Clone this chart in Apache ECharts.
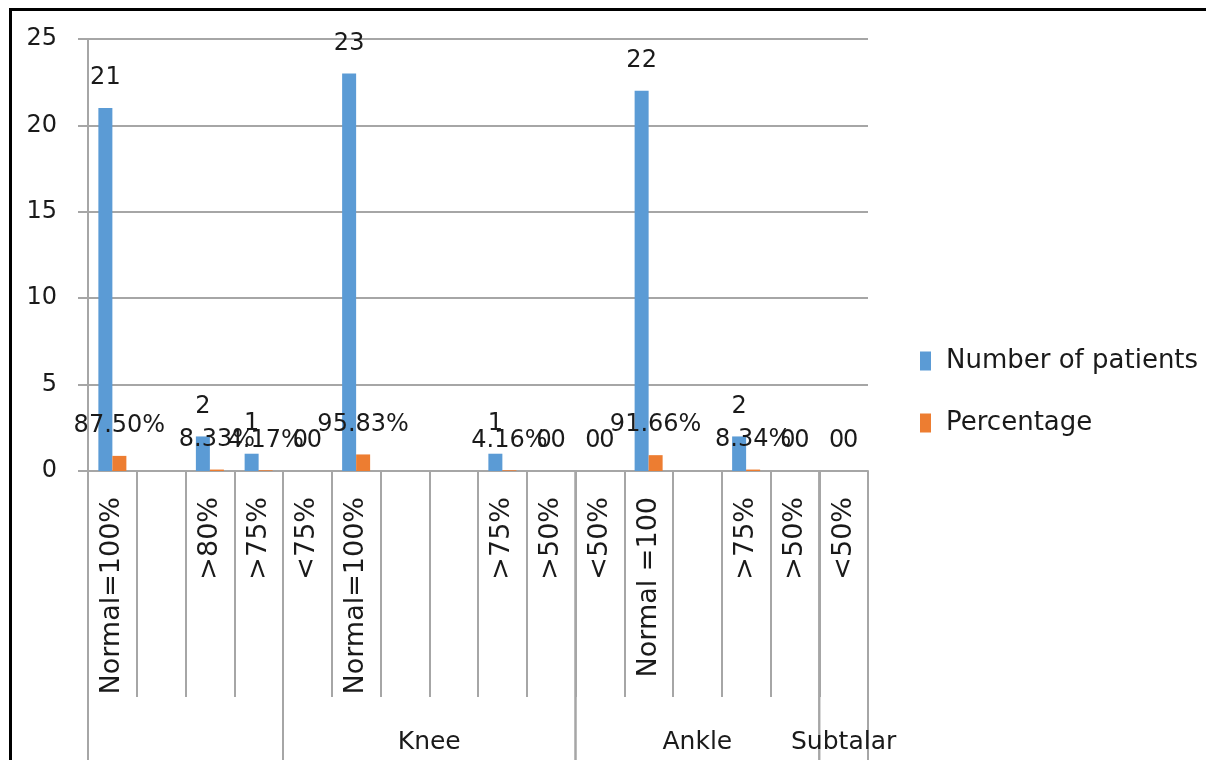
<!DOCTYPE html>
<html>
<head>
<meta charset="utf-8">
<title>Range of motion by joint</title>
<script src="https://cdn.jsdelivr.net/npm/echarts@6/dist/echarts.min.js"></script>
<style>
  html, body { margin: 0; padding: 0; background: #fff; overflow: hidden; }
  #wrap { position: relative; width: 1209px; height: 760px; overflow: hidden; }
  #chart { position: absolute; left: 0; top: 0; width: 1209px; height: 760px; }
  .rule { position: absolute; background: #000; pointer-events: none; }
  #ruleTop { left: 9px; top: 8px; width: 1197px; height: 3px; }
  #ruleLeft { left: 9px; top: 8px; width: 3px; height: 752px; }
</style>
</head>
<body>
<div id="wrap">
  <div id="chart"></div>
  <div id="ruleTop" class="rule"></div>
  <div id="ruleLeft" class="rule"></div>
</div>
<script>
// Range-of-motion categories (inner axis level)
const categories = ['Normal=100%', '', '>80%', '>75%', '<75%', 'Normal=100%', '', '', '>75%', '>50%', '<50%', 'Normal =100', '', '>75%', '>50%', '<50%'];

// Series values (null = no entry in that slot)
const patients = [21, null, 2, 1, 0, 23, null, null, 1, 0, 0, 22, null, 2, 0, 0];
const percentage = [0.875, null, 0.0833, 0.0417, 0, 0.9583, null, null, 0.0416, 0, 0, 0.9166, null, 0.0834, 0, 0];

// Joint groups (outer axis level): first and one-past-last category index
const groupNames = ['', 'Knee', 'Ankle', 'Subtalar'];
const groupStart = [0, 4, 10, 15];
const groupEnd = [4, 10, 15, 16];

// Value axis ticks
const yTicks = [0, 5, 10, 15, 20, 25];

const FONT = 'DejaVu Sans';
const TEXT = '#1a1a1a';
const LINE = '#a6a6a6';

const groupData = groupNames.map((n, i) => ({ name: n, value: [groupStart[i], 0, groupEnd[i]] }));

const chart = echarts.init(document.getElementById('chart'), null, { renderer: 'canvas' });

chart.setOption({
  animation: false,
  backgroundColor: '#fff',
  textStyle: { fontFamily: FONT, color: TEXT },
  grid: { left: 88, top: 39, right: 341, bottom: 289, containLabel: false },
  legend: {
    orient: 'vertical',
    left: 920,
    top: 348,
    padding: 0,
    icon: 'rect',
    itemWidth: 11,
    itemHeight: 19,
    itemGap: 36,
    data: ['Number of patients', 'Percentage'],
    textStyle: { fontFamily: FONT, fontSize: 26, color: TEXT, padding: [0, 0, 0, 10] }
  },
  xAxis: {
    type: 'category',
    data: categories,
    boundaryGap: true,
    axisLine: { show: true, lineStyle: { color: LINE, width: 2 } },
    axisTick: { show: true, interval: 0, length: 226, lineStyle: { color: LINE, width: 2 } },
    axisLabel: {
      interval: 0, rotate: 90, margin: 26,
      fontFamily: FONT, fontSize: 27, color: TEXT
    },
    splitLine: { show: false }
  },
  yAxis: {
    type: 'value',
    min: yTicks[0],
    max: yTicks[yTicks.length - 1],
    interval: yTicks[1] - yTicks[0],
    axisLine: { show: true, lineStyle: { color: LINE, width: 2 } },
    axisTick: { show: true, length: 10, lineStyle: { color: LINE, width: 2 } },
    axisLabel: { margin: 31, fontFamily: FONT, fontSize: 24, color: TEXT },
    splitLine: { show: true, lineStyle: { color: LINE, width: 2 } }
  },
  series: [
    {
      name: 'Number of patients',
      type: 'bar',
      data: patients,
      barWidth: 14,
      barGap: '0%',
      itemStyle: { color: '#5B9BD5' },
      label: {
        show: true, position: 'top', distance: 18,
        fontFamily: FONT, fontSize: 24, color: TEXT,
        formatter: p => String(p.value)
      }
    },
    {
      name: 'Percentage',
      type: 'bar',
      data: percentage,
      barWidth: 14,
      barGap: '0%',
      itemStyle: { color: '#ED7D31' },
      label: {
        show: true, position: 'top', distance: 18,
        fontFamily: FONT, fontSize: 24, color: TEXT,
        formatter: p => (p.value === 0 ? '0' : (p.value * 100).toFixed(2) + '%')
      }
    },
    {
      // Outer axis level: joint group dividers and names
      type: 'custom',
      silent: true,
      clip: false,
      z: 5,
      encode: { x: 0, y: 1 },
      data: groupData,
      renderItem: function (params, api) {
        const band = api.size([1, 0])[0];
        const a = api.coord([api.value(0), 0]);
        const b = api.coord([api.value(2) - 1, 0]);
        const x0 = a[0] - band / 2;
        const x1 = b[0] + band / 2;
        const y0 = a[1];
        const yEnd = api.getHeight();
        const name = groupNames[params.dataIndex];
        return {
          type: 'group',
          children: [
            { type: 'line', shape: { x1: x0, y1: y0, x2: x0, y2: yEnd }, style: { stroke: LINE, lineWidth: 2 } },
            { type: 'line', shape: { x1: x1, y1: y0, x2: x1, y2: yEnd }, style: { stroke: LINE, lineWidth: 2 } },
            {
              type: 'text',
              style: {
                text: name, x: (x0 + x1) / 2, y: y0 + 271,
                align: 'center', verticalAlign: 'middle',
                font: '25px "' + FONT + '"', fill: TEXT
              }
            }
          ]
        };
      }
    }
  ]
});
</script>
</body>
</html>
